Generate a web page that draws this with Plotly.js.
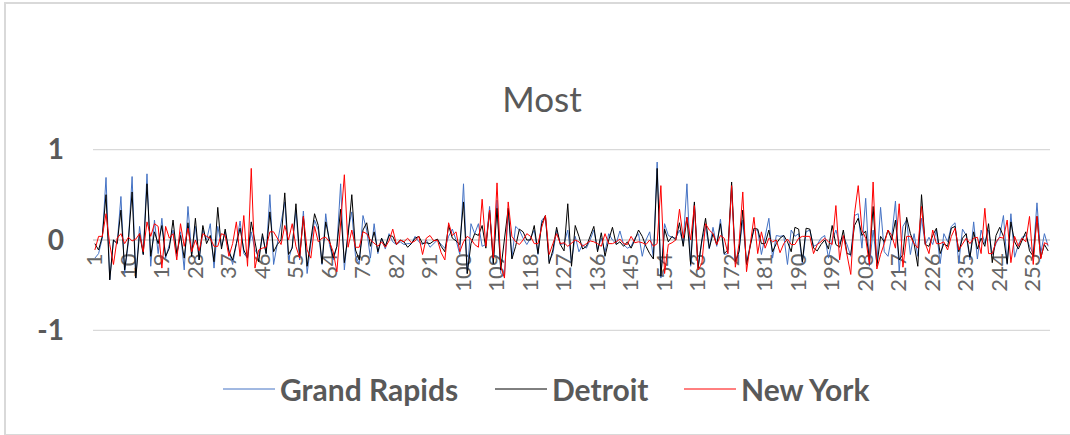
<!DOCTYPE html>
<html>
<head>
<meta charset="utf-8">
<script src="https://cdn.plot.ly/plotly-3.0.1.min.js"></script>
<style>
html,body{margin:0;padding:0;background:#fff;overflow:hidden}
#chart{position:absolute;left:0;top:0;width:1070px;height:435px}
#frame{position:absolute;left:4px;top:2px;width:1066px;height:430px;border-top:2px solid #d9d9d9;border-left:2px solid #d9d9d9;border-bottom:2px solid #d9d9d9;pointer-events:none}
</style>
</head>
<body>
<div id="chart"></div>
<div id="frame"></div>
<script>
const grandRapids = [
-.2,-.15,.02,.69,-.44,0,-.04,.48,-.37,-.02,
.7,-.42,.15,-.16,.73,-.29,.22,-.15,.24,-.2,
-.05,.11,-.18,.09,-.33,.37,-.15,.15,-.22,.11,
0,.18,-.31,.15,-.07,.09,-.11,-.27,-.04,.21,
-.15,-.2,.09,-.11,-.18,.04,-.15,.5,-.27,-.04,
.16,.42,-.22,-.07,.33,-.22,.32,-.37,-.04,.22,
.11,-.27,.29,-.05,-.22,-.07,.62,-.33,.11,.31,
-.18,-.26,.27,.11,-.2,.18,-.15,.02,-.1,.07,
-.02,-.05,-.02,-.05,-.04,-.04,.04,-.02,-.05,0,
-.08,-.04,0,-.05,-.09,.04,.12,0,-.16,.62,
-.37,.18,.07,.18,-.07,-.05,.37,-.26,.44,-.37,
-.4,.33,-.2,.15,.11,.02,-.05,.02,.11,-.16,
.22,.26,-.24,-.15,.11,-.05,-.04,.11,-.24,.04,
-.13,-.05,-.09,0,.11,-.11,.02,-.13,.07,0,
-.04,.1,-.05,-.09,-.07,.02,.07,-.18,0,.09,
-.2,.86,-.42,.18,.05,.03,.02,.11,-.04,.62,
-.29,.4,-.29,-.02,.15,-.1,.14,-.07,.23,-.16,
-.15,.58,-.26,-.11,.22,-.26,-.05,.11,.11,-.16,
.04,.24,-.2,.05,.04,.05,-.27,.11,.04,.07,
-.26,.09,.11,-.07,-.05,.02,.05,-.2,0,.11,
-.04,.04,-.05,-.18,.27,.29,-.09,.46,-.29,.11,
-.26,.36,-.13,-.18,.04,.43,-.35,.15,.22,-.16,
.07,-.18,.24,-.05,.03,-.05,.11,-.26,.07,-.02,
.15,.19,-.26,.12,.05,-.22,.2,-.21,.11,-.04,
.11,-.16,-.04,.04,.27,-.27,.29,-.19,-.05,.03,
.05,-.07,-.15,.41,-.15,.07,-.07];
const detroit = [
-.04,-.11,.04,.5,-.44,0,-.04,.33,-.33,0,
.53,-.42,.07,-.16,.62,-.18,.09,-.04,.16,-.18,
-.09,.22,-.15,.05,-.2,.19,-.18,.24,-.22,.16,
-.04,.05,-.24,.36,-.1,.12,-.13,-.22,-.04,.13,
-.11,-.2,.2,-.04,-.24,.07,-.15,.31,-.13,-.05,
0,.52,-.16,-.09,.4,-.18,.26,-.29,0,.29,
.16,-.26,.2,0,-.2,-.07,.34,-.25,.05,.5,
-.11,-.22,.11,.19,-.07,.09,-.13,.02,-.07,.05,
.04,-.05,0,-.02,-.08,-.04,.02,.04,-.04,-.03,
-.04,-.01,.01,-.07,-.13,.16,.02,-.01,-.05,.42,
-.37,-.04,.07,.05,.16,-.09,.33,-.26,.35,-.33,
0,.35,-.21,-.07,.12,.09,0,0,.16,-.15,
.18,.27,-.26,-.11,.14,-.05,-.12,.4,-.29,.16,
.04,-.1,-.07,.04,.15,-.13,.08,-.18,0,.14,
-.05,-.02,-.07,-.02,-.09,0,.11,.04,-.07,-.15,
-.21,.79,-.4,.12,-.02,.04,0,.19,-.07,.25,
-.27,.42,-.31,0,.24,-.09,.07,-.05,.18,-.15,
-.11,.64,-.24,-.13,.33,-.27,-.07,.13,.12,-.04,
-.04,.11,-.13,-.04,.02,.05,-.02,-.13,.14,.12,
-.24,.13,.12,-.09,-.12,-.05,0,-.1,.16,-.05,
-.08,.11,-.15,-.16,.16,.24,.05,.1,-.22,.37,
-.29,.04,-.02,.11,0,.22,-.22,-.16,.25,.07,
-.04,-.29,.5,-.05,-.07,.05,.13,-.15,-.04,-.07,
.13,.15,-.13,.02,.07,-.19,.09,-.1,.02,-.07,
.18,-.25,.05,.14,.04,-.26,.2,-.02,-.1,0,
.09,-.12,-.18,.26,-.2,-.05,-.12];
const newYork = [
-.11,.04,.04,.29,-.05,-.27,.02,.07,-.04,.03,
-.01,.01,.07,-.13,.2,.04,.18,.15,-.31,.15,
.02,.07,-.22,.18,-.07,.13,-.13,0,-.12,.07,
.04,.02,-.07,-.07,.07,.05,-.18,-.04,.2,-.18,
.27,-.29,.79,-.31,-.11,-.09,-.08,.09,.09,.02,
-.05,.16,0,.18,-.07,-.2,.26,-.11,-.2,.15,
-.02,.02,.03,-.02,-.13,-.35,.14,.72,-.08,.11,
-.08,-.08,.09,.07,0,-.04,-.07,-.02,-.08,-.01,
.12,-.05,0,-.02,.02,-.03,-.01,.04,-.16,.02,
.05,-.01,0,-.14,-.22,.19,.05,.09,-.13,-.02,
.04,.01,-.05,-.08,.45,-.07,.33,-.2,.63,-.29,
-.42,.42,.04,-.02,-.05,0,.07,.04,-.04,-.04,
.14,.27,-.16,-.04,.07,-.04,-.03,-.07,-.04,0,
-.02,-.07,-.04,-.01,-.02,-.04,-.07,.07,-.04,-.04,
-.02,.01,-.04,-.05,.04,-.03,-.02,-.03,-.05,0,
-.07,-.04,.6,-.37,-.05,-.03,0,.34,.02,.25,
0,.38,-.33,-.26,.18,.11,.07,-.05,.05,.02,
-.15,.6,-.3,-.04,.53,-.35,-.05,.25,-.15,.09,
-.09,.02,-.02,0,-.14,-.04,.01,-.05,-.05,.02,
.04,.04,.04,-.15,-.05,-.02,.02,-.02,-.05,.38,
-.22,.05,-.15,-.38,.29,.6,.11,.02,-.27,.64,
-.32,-.16,-.04,.11,.05,-.09,.4,-.3,.04,.04,
-.04,-.09,.37,-.04,-.15,.11,-.04,-.04,-.02,-.11,
.04,.13,-.11,-.04,.02,-.04,.02,.03,-.15,.35,
-.15,-.15,-.02,.03,.02,.22,-.25,.04,-.07,.02,
-.02,.26,-.27,.26,-.21,-.03,-.05];
const seriesNames = ["Grand Rapids", "Detroit", "New York"];
const seriesColors = ["#4472C4", "#000000", "#FF0000"];
const seriesValues = [grandRapids, detroit, newYork];
const legendIds = ["legend", "legend2", "legend3"];
const legendLeft = [226, 498, 687];
const yTicks = [-1, 0, 1];
const dayIndex = grandRapids.map((_, i) => i + 1);
const textGray = "#595959";
const gridGray = "#D9D9D9";
const fontFamily = "Lato, 'Open Sans', sans-serif";

const traces = seriesValues.map((v, k) => ({
  type: "scatter", mode: "lines", name: seriesNames[k], x: dayIndex, y: v,
  legend: legendIds[k],
  line: {color: seriesColors[k], width: 1}, hoverinfo: "skip"
}));

const legendFor = left => ({
  orientation: "h", x: (left - 8) / 1070, xref: "container", xanchor: "left",
  y: 1 - 389 / 435, yref: "container", yanchor: "middle",
  itemwidth: 52, font: {family: fontFamily, size: 30, weight: "bold", color: textGray},
  bgcolor: "rgba(0,0,0,0)"
});

const layout = {
  width: 1070, height: 435, autosize: false,
  paper_bgcolor: "#fff", plot_bgcolor: "#fff",
  margin: {l: 93, r: 20, t: 149, b: 104, pad: 0},
  title: {text: "Most", x: 542 / 1070, xref: "container", xanchor: "center", y: 1 - 100 / 435, yref: "container", yanchor: "middle",
    font: {family: fontFamily, size: 35, color: textGray}},
  xaxis: {range: [0.5, 257.5], tick0: 1, dtick: 9, tickmode: "linear", tickangle: -90,
    anchor: "free", position: 0.5, side: "bottom", layer: "below traces",
    showgrid: false, zeroline: false, showline: false, ticks: "",
    ticklabelstandoff: 8, tickfont: {family: fontFamily, size: 22, color: "#666666"}},
  yaxis: {range: [-1.004, 1.004], tickvals: yTicks, ticktext: yTicks.map(String),
    showgrid: false, zeroline: false, showline: false, ticks: "",
    ticklabelstandoff: 28, tickfont: {family: fontFamily, size: 28, weight: "bold", color: textGray}},
  shapes: yTicks.map(t => ({type: "line", layer: "below", xref: "paper", x0: 0, x1: 1, yref: "y", y0: t, y1: t,
    line: {color: gridGray, width: 2}})),
  showlegend: true,
  legend: legendFor(legendLeft[0]),
  legend2: legendFor(legendLeft[1]),
  legend3: legendFor(legendLeft[2])
};
Plotly.newPlot("chart", traces, layout, {displayModeBar: false, staticPlot: true});
</script>
</body>
</html>
